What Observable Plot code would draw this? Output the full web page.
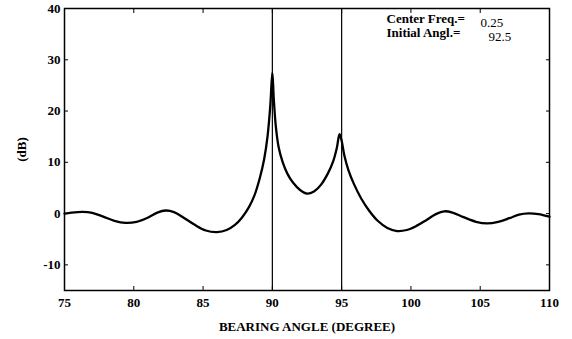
<!DOCTYPE html>
<html>
<head>
<meta charset="utf-8">
<script src="https://cdn.jsdelivr.net/npm/d3@7"></script>
<script src="https://cdn.jsdelivr.net/npm/@observablehq/plot@0.6"></script>
<style>
  html, body { margin: 0; padding: 0; background: #fff; }
  svg { font-family: "Liberation Serif", serif; }
</style>
</head>
<body>
<div id="chart"></div>
<script>
// Bearing angle (degree) and level (dB)
const angle = [75, 75.5, 76.3, 77, 77.8, 78.6, 79.4, 80.2, 81, 81.7, 82.3, 82.9, 83.6, 84.4, 85.2, 86.0, 86.7, 87.3, 87.8, 88.3, 88.7, 89.1, 89.4, 89.65, 89.85, 90.0, 90.1, 90.25, 90.45, 90.75, 91.1, 91.5, 92.0, 92.5, 93.0, 93.5, 94.0, 94.4, 94.65, 94.85, 95.0, 95.2, 95.5, 95.9, 96.4, 97.0, 97.6, 98.3, 99.0, 99.7, 100.4, 101.1, 101.8, 102.4, 103.0, 103.8, 104.7, 105.5, 106.3, 107.1, 107.8, 108.5, 109.2, 110];
const level = [0, 0.2, 0.35, 0.15, -0.6, -1.4, -1.8, -1.6, -0.8, 0.2, 0.6, 0.3, -0.8, -2.2, -3.3, -3.6, -3.2, -2.2, -0.8, 1.2, 3.5, 7, 10.5, 15, 21, 27.5, 22.5, 17, 13, 10, 7.7, 6, 4.6, 3.9, 4.3, 5.6, 7.8, 10.3, 12.8, 15.5, 14.2, 11.3, 8.4, 5.7, 3.0, 0.5, -1.4, -2.8, -3.4, -3.2, -2.4, -1.3, -0.1, 0.45, 0.2, -0.7, -1.6, -1.9, -1.6, -0.9, -0.2, 0.05, -0.1, -0.6];
const markers = [90, 95];
const xTicks = [75, 80, 85, 90, 95, 100, 105, 110];
const yTicks = [-10, 0, 10, 20, 30, 40];
const noteLabels = ["Center Freq.=", "Initial Angl.="];
const noteValues = ["0.25", "92.5"];

const data = angle.map((a, i) => ({angle: a, dB: level[i]}));

const font = {fontFamily: "Liberation Serif, serif", fontWeight: "bold"};

const chart = Plot.plot({
  width: 572,
  height: 339,
  marginLeft: 64,
  marginRight: 23,
  marginTop: 8,
  marginBottom: 49,
  style: {fontFamily: "Liberation Serif, serif", fontSize: "12px", background: "#fff", color: "#000"},
  x: {domain: [75, 110]},
  y: {domain: [-15, 40]},
  marks: [
    Plot.frame({stroke: "#000", strokeWidth: 1.5}),
    // inward ticks on all sides
    Plot.axisX({ticks: xTicks, anchor: "bottom", tickSize: -4, tickFormat: () => "", label: null}),
    Plot.axisX({ticks: xTicks, anchor: "top", tickSize: -4, tickFormat: () => "", label: null}),
    Plot.axisY({ticks: yTicks, anchor: "left", tickSize: -4, tickFormat: () => "", label: null}),
    Plot.axisY({ticks: yTicks, anchor: "right", tickSize: -4, tickFormat: () => "", label: null}),
    // tick labels and axis titles
    Plot.axisX({ticks: xTicks, anchor: "bottom", tickSize: 0, tickPadding: 7, ...font, fontSize: 13,
      tickFormat: d => String(d),
      label: "BEARING ANGLE (DEGREE)", labelAnchor: "center", labelArrow: "none", labelOffset: 40}),
    Plot.axisY({ticks: yTicks, anchor: "left", tickSize: 0, tickPadding: 4, ...font, fontSize: 13,
      tickFormat: d => String(d),
      label: "(dB)", labelAnchor: "center", labelArrow: "none", labelOffset: 48}),
    Plot.ruleX(markers, {stroke: "#000", strokeWidth: 1.2}),
    Plot.line(data, {x: "angle", y: "dB", stroke: "#000", strokeWidth: 2.3, curve: "catmull-rom"}),
    // annotation
    Plot.text([noteLabels[0]], {text: d => d, frameAnchor: "top-left", textAnchor: "start", lineAnchor: "bottom",
      dx: 322, dy: 14, ...font, fontSize: 13}),
    Plot.text([noteLabels[1]], {text: d => d, frameAnchor: "top-left", textAnchor: "start", lineAnchor: "bottom",
      dx: 322, dy: 28, ...font, fontSize: 13}),
    Plot.text([noteValues[0]], {text: d => d, frameAnchor: "top-left", textAnchor: "start", lineAnchor: "bottom",
      dx: 416, dy: 18, fontFamily: "Liberation Serif, serif", fontSize: 13}),
    Plot.text([noteValues[1]], {text: d => d, frameAnchor: "top-left", textAnchor: "start", lineAnchor: "bottom",
      dx: 424, dy: 32, fontFamily: "Liberation Serif, serif", fontSize: 13})
  ]
});

document.getElementById("chart").appendChild(chart);
</script>
</body>
</html>
